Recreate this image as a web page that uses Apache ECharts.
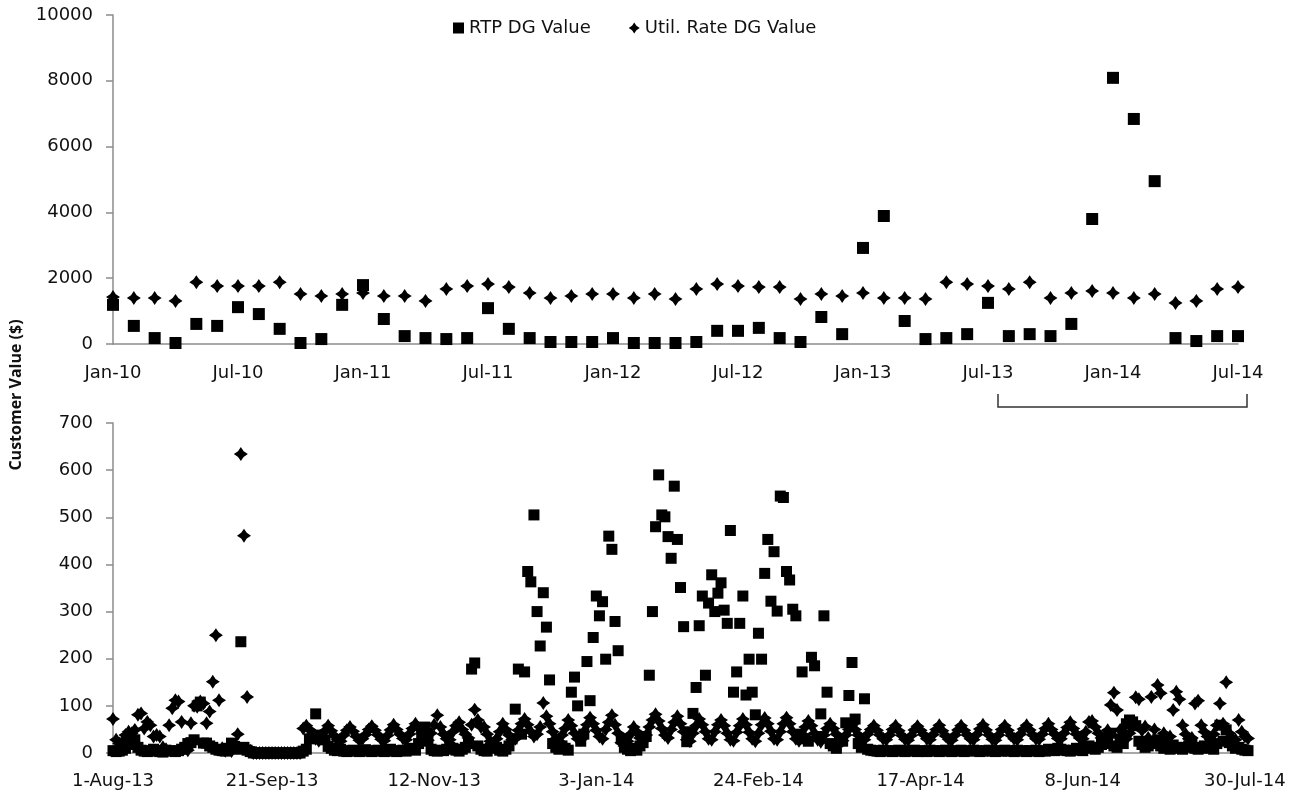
<!DOCTYPE html>
<html><head><meta charset="utf-8">
<script src="https://cdn.jsdelivr.net/npm/echarts@6/dist/echarts.min.js"></script>
<style>html,body{margin:0;padding:0;background:#fff}#c{width:1298px;height:798px}</style>
</head><body><div id="c"></div>
<script>
const monthNames = ['Jan','Feb','Mar','Apr','May','Jun','Jul','Aug','Sep','Oct','Nov','Dec'];

// Top panel: monthly, Jan-10 .. Jul-14
const monthlyCategories = [];
for (let y = 2010; y <= 2014; y++) {
  for (let m = 0; m < 12; m++) {
    if (y === 2014 && m > 6) break;
    monthlyCategories.push(monthNames[m] + '-' + String(y).slice(2));
  }
}
const monthlyRTP = [
  1190, 550, 180, 30, 610, 550, 1120, 910, 460, 30, 150, 1190,
  1790, 760, 240, 180, 150, 180, 1090, 460, 180, 60, 60, 60,
  180, 30, 30, 30, 60, 400, 400, 490, 180, 60, 820, 300,
  2920, 3890, 700, 150, 180, 300, 1250, 240, 300, 240, 610, 3800,
  8090, 6840, 4950, 180, 90, 240, 240
];
const monthlyUtil = [
  1430, 1400, 1400, 1310, 1880, 1760, 1760, 1760, 1880, 1520, 1460, 1520,
  1550, 1460, 1460, 1310, 1670, 1760, 1820, 1730, 1550, 1400, 1460, 1520,
  1520, 1400, 1520, 1370, 1670, 1820, 1760, 1730, 1730, 1370, 1520, 1460,
  1550, 1400, 1400, 1370, 1880, 1820, 1760, 1670, 1880, 1400, 1550, 1610,
  1550, 1400, 1520, 1250, 1310, 1670, 1730
];

// Bottom panel: daily, 1-Aug-13 .. 31-Jul-14
const dailyRTP = [
  5,3,4,6,10,18,25,
  28,12,6,4,3,5,8,
  4,3,2,6,5,4,3,
  5,8,12,20,22,28,100,
  108,21,21,15,12,8,6,
  5,4,10,21,14,8,236,
  12,6,3,0,0,0,0,
  0,0,0,0,0,0,0,
  0,0,0,0,0,4,8,
  30,35,83,38,32,28,14,
  10,6,5,8,4,3,5,
  6,4,3,5,7,4,3,
  5,6,4,3,5,8,4,
  3,5,6,4,8,10,6,
  20,30,55,25,8,5,4,
  6,5,8,12,10,6,4,
  8,12,20,178,191,15,8,
  5,4,10,18,12,6,4,
  8,15,30,93,178,40,172,
  385,363,505,300,227,340,267,
  155,20,12,8,15,10,6,
  129,161,100,25,40,194,111,
  245,333,291,321,199,460,432,
  279,217,30,12,8,5,10,
  6,15,22,35,165,300,480,
  590,505,501,459,413,566,453,
  351,268,24,45,84,139,270,
  333,165,318,378,300,339,361,
  303,275,472,129,172,275,333,
  123,199,129,81,254,199,381,
  453,322,427,301,545,542,385,
  367,305,291,40,172,30,25,
  203,185,35,83,291,129,20,
  15,10,30,25,64,122,192,
  72,20,12,115,8,6,5,
  4,3,6,5,4,3,5,
  6,4,3,5,4,6,3,
  5,4,3,6,5,4,3,
  5,6,4,3,5,4,6,
  3,5,4,6,5,3,4,
  5,6,4,3,5,4,6,
  4,5,3,6,4,5,3,
  5,4,6,3,5,4,8,
  6,5,10,8,6,5,4,
  6,10,8,5,12,15,10,
  8,12,18,25,20,42,15,
  12,30,20,62,70,66,58,
  25,18,12,15,20,22,28,
  15,10,18,8,17,12,10,
  8,12,15,20,10,8,12,
  15,10,12,8,20,59,25,
  49,22,15,10,12,8,6,
  5
];
const dailyUtil = [
  72,28,20,24,38,45,42,
  49,81,84,52,66,59,35,
  38,35,12,8,59,95,112,
  109,66,10,6,63,100,98,
  109,105,63,88,151,250,112,
  10,5,8,4,12,40,634,
  461,119,5,0,0,0,0,
  0,0,0,0,0,0,0,
  0,0,0,0,0,52,58,
  50,40,30,26,35,47,58,
  47,36,28,25,38,48,55,
  46,35,27,30,39,50,57,
  48,38,29,26,37,49,60,
  50,40,31,28,40,52,62,
  52,42,30,27,42,60,80,
  55,40,30,28,45,58,65,
  50,40,32,60,92,70,55,
  55,40,25,18,30,45,62,
  50,38,28,30,48,62,72,
  60,45,35,40,55,106,78,
  62,45,30,25,38,52,70,
  58,42,30,28,45,60,75,
  62,48,35,30,50,65,80,
  60,42,22,15,25,40,55,
  45,32,25,38,55,70,82,
  68,52,38,32,50,65,78,
  62,45,28,25,42,58,72,
  60,45,30,28,45,60,70,
  58,42,28,26,44,58,72,
  60,44,30,25,42,60,74,
  62,46,30,28,45,62,75,
  62,45,30,26,40,55,68,
  58,42,28,24,38,52,62,
  52,40,28,26,38,50,60,
  50,38,30,28,40,50,58,
  48,38,30,28,38,50,58,
  47,37,29,27,37,49,57,
  48,39,30,28,39,50,59,
  47,36,29,27,38,49,58,
  48,38,30,28,39,51,60,
  49,38,29,27,38,50,58,
  48,37,30,28,40,51,59,
  49,38,30,29,40,52,62,
  50,40,31,30,42,54,65,
  52,40,32,30,45,66,68,
  55,42,32,30,48,102,128,
  91,49,45,30,42,55,118,
  114,48,56,32,119,50,144,
  127,42,30,35,91,130,114,
  59,40,30,32,105,111,59,
  45,35,28,40,59,105,62,
  150,42,30,28,70,45,35,
  31
];
const dailyTickLabels = ['1-Aug-13','21-Sep-13','12-Nov-13','3-Jan-14','24-Feb-14','17-Apr-14','8-Jun-14','30-Jul-14'];

const dailyStart = Date.UTC(2013, 7, 1);
const dailyCategories = dailyRTP.map((_, i) => {
  const d = new Date(dailyStart + i * 86400000);
  return d.getUTCDate() + '-' + monthNames[d.getUTCMonth()] + '-' + String(d.getUTCFullYear()).slice(2);
});

const FONT = 'DejaVu Sans';
const diamond = 'path://M0,-10L4,-4L10,0L4,4L0,10L-4,4L-10,0L-4,-4Z';
const axisGrey = '#8c8c8c';

function yAxisCfg(gi, max, interval) {
  return {
    type: 'value', gridIndex: gi, min: 0, max: max, interval: interval,
    splitLine: { show: false },
    axisLine: { show: true, lineStyle: { color: axisGrey, width: 1.5 } },
    axisTick: { show: true, inside: false, length: 7, lineStyle: { color: axisGrey, width: 1.5 } },
    axisLabel: { color: '#111', fontFamily: FONT, fontSize: 18, margin: 20, formatter: v => String(v) }
  };
}

const markStyle = { color: '#000', opacity: 1 };

const chart = echarts.init(document.getElementById('c'), null, { renderer: 'canvas' });
chart.setOption({
  animation: false,
  backgroundColor: '#fff',
  legend: {
    data: ['RTP DG Value', 'Util. Rate DG Value'],
    left: 448, top: 14, itemWidth: 11, itemHeight: 11, itemGap: 38,
    textStyle: { color: '#111', fontFamily: FONT, fontSize: 18 }
  },
  grid: [
    { left: 113, right: 60, top: 15, height: 329 },
    { left: 113, right: 50, top: 423, height: 330 }
  ],
  xAxis: [
    {
      type: 'category', gridIndex: 0, data: monthlyCategories, boundaryGap: false,
      axisLine: { lineStyle: { color: axisGrey, width: 1.5 } },
      axisTick: { show: false },
      axisLabel: { interval: 5, color: '#111', fontFamily: FONT, fontSize: 18, margin: 20 }
    },
    {
      type: 'category', gridIndex: 1, data: dailyCategories, boundaryGap: false,
      axisLine: { lineStyle: { color: axisGrey, width: 1.5 } },
      axisTick: { show: false },
      axisLabel: {
        interval: (idx, val) => dailyTickLabels.indexOf(val) >= 0,
        color: '#111', fontFamily: FONT, fontSize: 18, margin: 19, hideOverlap: false
      }
    }
  ],
  yAxis: [yAxisCfg(0, 10000, 2000), yAxisCfg(1, 700, 100)],
  series: [
    { name: 'RTP DG Value', type: 'scatter', xAxisIndex: 0, yAxisIndex: 0, data: monthlyRTP,
      symbol: 'rect', symbolSize: 12, itemStyle: markStyle },
    { name: 'Util. Rate DG Value', type: 'scatter', xAxisIndex: 0, yAxisIndex: 0, data: monthlyUtil,
      symbol: diamond, symbolSize: 14, symbolKeepAspect: true, itemStyle: markStyle },
    { name: 'RTP DG Value', type: 'scatter', xAxisIndex: 1, yAxisIndex: 1, data: dailyRTP,
      symbol: 'rect', symbolSize: 11, itemStyle: markStyle, large: false },
    { name: 'Util. Rate DG Value', type: 'scatter', xAxisIndex: 1, yAxisIndex: 1, data: dailyUtil,
      symbol: diamond, symbolSize: 14, symbolKeepAspect: true, itemStyle: markStyle, large: false }
  ],
  graphic: [
    { type: 'text', x: 16, y: 395, rotation: Math.PI / 2,
      style: { text: 'Customer Value ($)', fill: '#111', font: 'bold 16px "Open Sans"',
               textAlign: 'center', textVerticalAlign: 'middle' } },
    { type: 'polyline', shape: { points: [[998, 394], [998, 407], [1247, 407], [1247, 394]] },
      style: { stroke: '#333', lineWidth: 1.5, fill: null } }
  ]
});
</script>
</body></html>
